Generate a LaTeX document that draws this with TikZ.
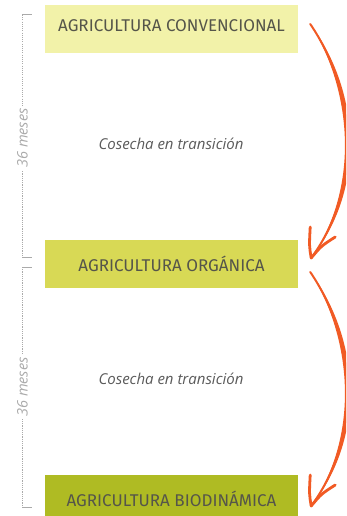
\documentclass[tikz,border=0pt]{standalone}
\usepackage{fontspec}
\setmainfont{Fira Sans}
\newfontfamily\itfont{Open Sans}
\usetikzlibrary{calc}
\definecolor{convc}{HTML}{F2F2A9}
\definecolor{orgc}{HTML}{D8D955}
\definecolor{bioc}{HTML}{AFBB23}
\definecolor{arrowc}{HTML}{F15A24}
\definecolor{boxtext}{HTML}{55554A}
\definecolor{dimc}{HTML}{AAAAAA}
\definecolor{italc}{HTML}{5A5A5A}
\newcommand\brusharrow[2]{%
  \fill[arrowc] (#1) .. controls ($(#1)+(48,64)$) and ($(#2)+(57,-72)$) .. (#2)
     .. controls ($(#2)+(50,-72)$) and ($(#1)+(41,64)$) .. (#1) -- cycle;
  \draw[brush] (#1) .. controls ($(#1)+(44,64)$) and ($(#2)+(53,-72)$) .. (#2);
  \draw[brush, line width=2.8pt] (#2) .. controls ($(#2)+(-2,-12)$) .. ($(#2)+(-1,-31)$);
  \draw[brush, line width=2.8pt] (#2) .. controls ($(#2)+(10,-12)$) .. ($(#2)+(24,-21)$);
}
\begin{document}
\begin{tikzpicture}[x=1pt,y=-1pt,
  stagebox/.style={minimum width=253pt, minimum height=48pt, inner sep=0pt, text=boxtext,
     font=\fontsize{17}{17}\selectfont},
  transtext/.style={font=\itfont\itshape\fontsize{15}{15}\selectfont, text=italc},
  dimtext/.style={font=\itfont\itshape\fontsize{14.5}{14.5}\selectfont, text=dimc, fill=white,
     rotate=90, inner sep=2pt},
  dimline/.style={dimc, line width=1.3pt, dash pattern=on 1.1pt off 1.1pt},
  tickline/.style={dimc, line width=1pt},
  brush/.style={arrowc, line width=2pt, line cap=round, line join=round},
]
\clip (0,0) rectangle (346,516);
\fill[white] (0,0) rectangle (346,516);

% stage boxes
\node[stagebox, fill=convc, text depth=7pt] (conv) at (171.5,29) {AGRICULTURA CONVENCIONAL};
\node[stagebox, fill=orgc] (org) at (171.5,264) {AGRICULTURA ORGÁNICA};
\node[stagebox, fill=bioc] (bio) at (171.5,499) {AGRICULTURA BIODINÁMICA};

% transition labels
\node[transtext] (t1) at (171,144) {Cosecha en transición};
\node[transtext] (t2) at (171,379) {Cosecha en transición};

% time scale
\draw[dimline] (22.5,15) -- (22.5,257);
\draw[dimline] (22.5,267) -- (22.5,507);
\draw[tickline] (22,15) -- (32,15);
\draw[tickline] (22,257) -- (32,257);
\draw[tickline] (22,267) -- (32,267);
\draw[tickline] (22,507) -- (32,507);
\node[dimtext] (d1) at (22.5,138) {36 meses};
\node[dimtext] (d2) at (22.5,387) {36 meses};

% hand-drawn arrows
\coordinate (a1s) at ([xshift=12pt,yshift=5pt]conv.east);
\coordinate (a1e) at ([xshift=13pt,yshift=6pt]org.east);
\coordinate (a2s) at ([xshift=12pt,yshift=-8pt]org.east);
\coordinate (a2e) at ([xshift=13pt,yshift=-7pt]bio.east);
\brusharrow{a1s}{a1e}
\brusharrow{a2s}{a2e}
\end{tikzpicture}
\end{document}
